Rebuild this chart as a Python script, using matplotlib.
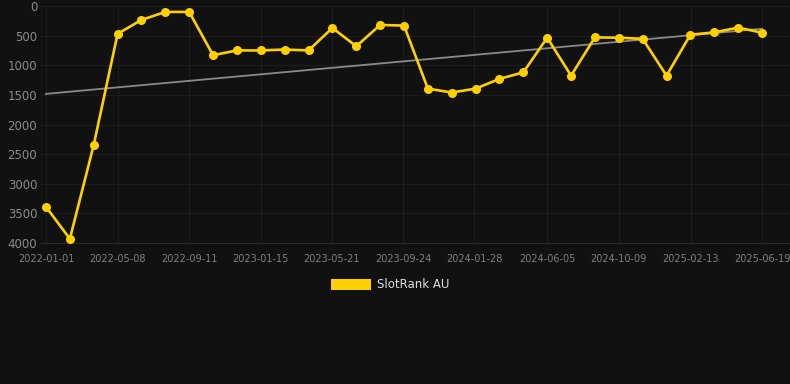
import numpy as np
import pandas as pd
import matplotlib
matplotlib.use("Agg")
import matplotlib.pyplot as plt
import matplotlib.dates as mdates
from matplotlib.patches import Patch

start_date = "2022-01-01"
end_date = "2025-06-19"
rank_values = [3390, 3930, 2345, 470, 235, 100, 100, 830, 750, 750,
               735, 750, 370, 680, 320, 330, 1395, 1460, 1395, 1230,
               1120, 535, 1175, 530, 535, 555, 1175, 485, 445, 365, 450]
tick_labels = ["2022-01-01", "2022-05-08", "2022-09-11", "2023-01-15", "2023-05-21",
               "2023-09-24", "2024-01-28", "2024-06-05", "2024-10-09", "2025-02-13",
               "2025-06-19"]
y_ticks = [0, 500, 1000, 1500, 2000, 2500, 3000, 3500, 4000]
series_name = "SlotRank AU"

dates = pd.date_range(start_date, end_date, periods=len(rank_values))
xnum = mdates.date2num(dates)

# linear trend
coef = np.polyfit(xnum, rank_values, 1)
trend = np.polyval(coef, xnum[[0, -1]])

bg = "#111111"
W, H = 790, 384
fig = plt.figure(figsize=(W/100, H/100), dpi=100, facecolor=bg)
ax = fig.add_axes([40/W, (H-243)/H, 750/W, 237/H], facecolor=bg)

ax.plot(xnum[[0, -1]], trend, color="#8a8a8a", lw=1.3, zorder=2)
ax.plot(xnum, rank_values, color="#FFD000", lw=1.9, marker="o", ms=6.5,
        markeredgewidth=0, zorder=3)

ax.set_ylim(4000, 0)
x0 = mdates.date2num(pd.Timestamp(start_date))
x1 = mdates.date2num(pd.Timestamp(end_date))
ppd = (762 - 46) / (x1 - x0)
ax.set_xlim(x0 - 6/ppd, x1 + 28/ppd)

ax.set_yticks(y_ticks)
ax.set_yticklabels([str(v) for v in y_ticks])
tick_pos = [mdates.date2num(pd.Timestamp(t)) for t in tick_labels]
ax.set_xticks(tick_pos)
ax.set_xticklabels(tick_labels)

ax.tick_params(axis="y", colors="#8c8c8c", labelsize=8.5, length=0, pad=2)
ax.tick_params(axis="x", colors="#808080", labelsize=7, length=0, pad=8)
ax.grid(True, color="#1d1d1d", lw=0.8)
for s in ["top", "right", "left"]:
    ax.spines[s].set_visible(False)
ax.spines["bottom"].set_color("#2a2a2a")
ax.set_axisbelow(True)

handle = Patch(facecolor="#FFD000", edgecolor="none")
fig.legend([handle], [series_name], loc="center", bbox_to_anchor=(390/W, 1 - 285/H),
           frameon=False, labelcolor="#dddddd", fontsize=8.5,
           handlelength=3.4, handleheight=1.0, handletextpad=0.5)

fig.savefig("out.png", dpi=100, facecolor=bg)
